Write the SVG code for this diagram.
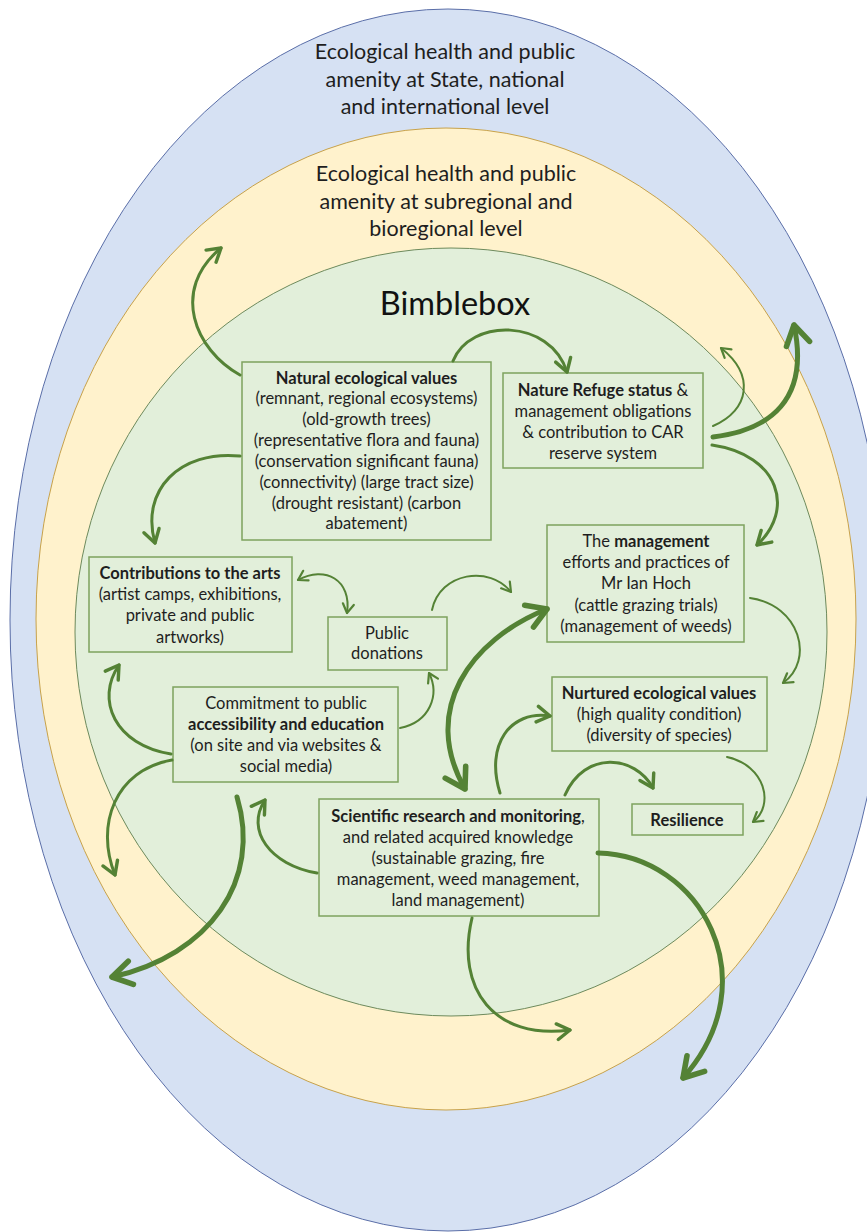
<svg xmlns="http://www.w3.org/2000/svg" width="867" height="1232" viewBox="0 0 867 1232">
<defs>
<style>
.t{font-family:Lato,"Open Sans","Liberation Sans",sans-serif;font-size:16.5px;fill:#1e1e1e;text-anchor:middle}
.b{font-weight:bold}
.o{font-family:Lato,"Open Sans","Liberation Sans",sans-serif;font-size:21.5px;fill:#1e1e1e;text-anchor:middle}
.box{fill:#e2efda;stroke:#7ea35e;stroke-width:1.5}
.a{fill:none;stroke:#548235;stroke-linecap:round}
.s{stroke-width:2}
.m{stroke-width:3}
.l{stroke-width:5}
.mh{fill:none;stroke:#548235;stroke-linecap:round;stroke-linejoin:round}
</style>
<marker id="hs" viewBox="0 0 14 14" refX="12" refY="7" markerWidth="14" markerHeight="14" markerUnits="userSpaceOnUse" orient="auto-start-reverse"><path class="mh" d="M3,1.5 L12,7 L3,12.5" stroke-width="2.2"/></marker>
<marker id="hm" viewBox="0 0 14 14" refX="12" refY="7" markerWidth="20" markerHeight="20" markerUnits="userSpaceOnUse" orient="auto-start-reverse"><path class="mh" d="M3,1.5 L12,7 L3,12.5" stroke-width="2.4"/></marker>
<marker id="hl" viewBox="0 0 14 14" refX="12" refY="7" markerWidth="30" markerHeight="30" markerUnits="userSpaceOnUse" orient="auto-start-reverse"><path class="mh" d="M3,1.5 L12,7 L3,12.5" stroke-width="2.6"/></marker>
</defs>
<g id="rings">
<ellipse id="outer" cx="448" cy="620" rx="438" ry="611" fill="#d6e1f3" stroke="#5a6ea8" stroke-width="1"/>
<ellipse id="middle" cx="446" cy="619" rx="410" ry="491" fill="#fff2cc" stroke="#c8a24a" stroke-width="1"/>
<ellipse id="inner" cx="451" cy="632" rx="376" ry="384" fill="#e2efda" stroke="#6d8a5c" stroke-width="1"/>
</g>
<g id="ring-labels">
<text class="o" x="445" y="59">Ecological health and public</text>
<text class="o" x="445" y="87">amenity at State, national</text>
<text class="o" x="445" y="114">and international level</text>
<text class="o" x="446" y="181">Ecological health and public</text>
<text class="o" x="446" y="209">amenity at subregional and</text>
<text class="o" x="446" y="236">bioregional level</text>
<text x="455" y="315" style="font-family:Lato,'Open Sans','Liberation Sans',sans-serif;font-size:32.5px;fill:#111;text-anchor:middle">Bimblebox</text>
</g>
<g id="natural">
<rect class="box" x="242" y="362" width="249" height="178"/>
<text class="t b" x="366.5" y="384">Natural ecological values</text>
<text class="t" x="366.5" y="404">(remnant, regional ecosystems)</text>
<text class="t" x="366.5" y="425">(old-growth trees)</text>
<text class="t" x="366.5" y="446">(representative flora and fauna)</text>
<text class="t" x="366.5" y="467">(conservation significant fauna)</text>
<text class="t" x="366.5" y="488">(connectivity) (large tract size)</text>
<text class="t" x="366.5" y="509">(drought resistant) (carbon</text>
<text class="t" x="366.5" y="529">abatement)</text>
</g>
<g id="refuge">
<rect class="box" x="503" y="373" width="200" height="95"/>
<text class="t" x="603" y="396"><tspan class="b">Nature Refuge status</tspan> &amp;</text>
<text class="t" x="603" y="417">management obligations</text>
<text class="t" x="603" y="438">&amp; contribution to CAR</text>
<text class="t" x="603" y="459">reserve system</text>
</g>
<g id="arts">
<rect class="box" x="89" y="557" width="203" height="95"/>
<text class="t b" x="190" y="579">Contributions to the arts</text>
<text class="t" x="190" y="600">(artist camps, exhibitions,</text>
<text class="t" x="190" y="621">private and public</text>
<text class="t" x="190" y="643">artworks)</text>
</g>
<g id="donations">
<rect class="box" x="328" y="617" width="119" height="53"/>
<text class="t" x="387" y="639">Public</text>
<text class="t" x="387" y="659">donations</text>
</g>
<g id="commitment">
<rect class="box" x="173" y="687" width="225" height="95"/>
<text class="t" x="286" y="709">Commitment to public</text>
<text class="t b" x="286" y="730">accessibility and education</text>
<text class="t" x="286" y="751">(on site and via websites &amp;</text>
<text class="t" x="286" y="772">social media)</text>
</g>
<g id="management">
<rect class="box" x="547" y="525" width="197" height="117"/>
<text class="t" x="646" y="547">The <tspan class="b">management</tspan></text>
<text class="t" x="646" y="568">efforts and practices of</text>
<text class="t" x="646" y="589">Mr Ian Hoch</text>
<text class="t" x="646" y="611">(cattle grazing trials)</text>
<text class="t" x="646" y="632">(management of weeds)</text>
</g>
<g id="nurtured">
<rect class="box" x="552" y="677" width="215" height="74"/>
<text class="t b" x="659" y="699">Nurtured ecological values</text>
<text class="t" x="659" y="720">(high quality condition)</text>
<text class="t" x="659" y="741">(diversity of species)</text>
</g>
<g id="resilience">
<rect class="box" x="632" y="804" width="111" height="31"/>
<text class="t b" x="687" y="826">Resilience</text>
</g>
<g id="science">
<rect class="box" x="319" y="799" width="280" height="117"/>
<text class="t" x="458" y="822"><tspan class="b">Scientific research and monitoring</tspan>,</text>
<text class="t" x="458" y="843">and related acquired knowledge</text>
<text class="t" x="458" y="864">(sustainable grazing, fire</text>
<text class="t" x="458" y="885">management, weed management,</text>
<text class="t" x="458" y="906">land management)</text>
</g>
<g id="connectors">
<path class="a m" marker-end="url(#hm)" d="M240,375 C195,350 170,290 221,248"/>
<path class="a m" marker-end="url(#hm)" d="M453,361 C470,318 550,318 567,372"/>
<path class="a l" marker-end="url(#hl)" d="M713,437 C770,430 810,400 794,325"/>
<path class="a s" marker-end="url(#hs)" d="M713,426 C750,410 755,375 721,348"/>
<path class="a m" marker-end="url(#hm)" d="M712,445 C780,455 795,510 757,545"/>
<path class="a m" marker-end="url(#hm)" d="M240,456 C180,450 140,490 155,543"/>
<path class="a s" marker-start="url(#hs)" marker-end="url(#hs)" d="M298,580 C325,565 352,580 347,613"/>
<path class="a s" marker-end="url(#hs)" d="M432,610 C440,572 490,565 511,592"/>
<path class="a m" marker-end="url(#hm)" d="M171,754 C115,745 95,700 119,665"/>
<path class="a m" marker-end="url(#hm)" d="M172,760 C115,770 95,825 115,875"/>
<path class="a l" marker-end="url(#hl)" d="M237,797 C262,880 210,955 112,977"/>
<path class="a s" marker-end="url(#hs)" d="M400,728 C430,722 440,695 429,673"/>
<path class="a m" marker-end="url(#hm)" d="M317,873 C270,865 245,830 265,800"/>
<path class="a l" marker-start="url(#hl)" marker-end="url(#hl)" d="M547,609 C470,640 420,710 465,789"/>
<path class="a m" marker-end="url(#hm)" d="M500,793 C485,745 510,710 550,716"/>
<path class="a m" marker-end="url(#hm)" d="M565,795 C585,750 635,755 653,788"/>
<path class="a s" marker-end="url(#hs)" d="M750,598 C800,605 815,660 783,683"/>
<path class="a s" marker-end="url(#hs)" d="M727,757 C765,765 775,805 753,822"/>
<path class="a l" marker-end="url(#hl)" d="M598,853 C700,855 770,980 683,1078"/>
<path class="a m" marker-end="url(#hm)" d="M472,918 C455,990 495,1040 570,1030"/>
</g>
</svg>
